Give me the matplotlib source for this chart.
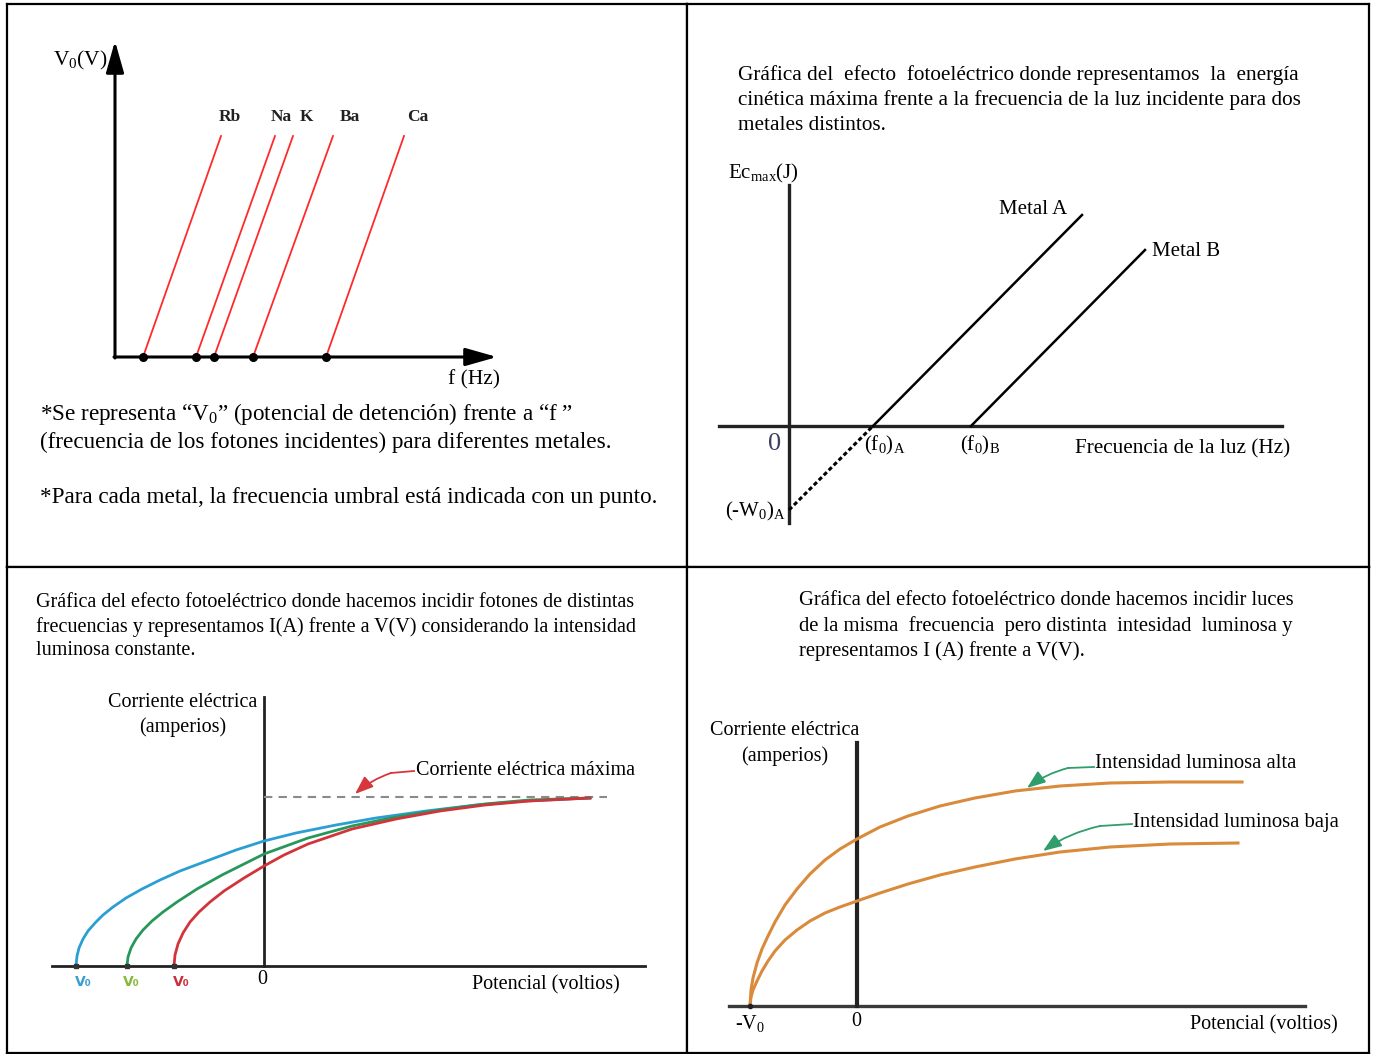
import matplotlib
matplotlib.use('Agg')
import matplotlib.pyplot as plt

plt.rcParams['font.family'] = ['Liberation Serif', 'DejaVu Serif']
plt.rcParams['mathtext.fontset'] = 'custom'
plt.rcParams['mathtext.rm'] = 'Liberation Serif'
plt.rcParams['mathtext.it'] = 'Liberation Serif:italic'
plt.rcParams['mathtext.bf'] = 'Liberation Serif:bold'
plt.rcParams['lines.solid_joinstyle'] = 'round'

# ---- data (arbitrary units) ----
# panel 1: V0 vs f for several metals
metales = ['Rb', 'Na', 'K', 'Ba', 'Ca']
f_umbral = [28, 81, 99, 138, 211]
f_final = [106, 160, 178, 218, 289]
v_final = 221
etiqueta_x = [115, 166, 191, 235, 303]

# panel 2: Ec_max vs f for two metals
metal_a_f = [84, 293]
metal_a_e = [0, 211]
metal_b_f = [182, 356]
metal_b_e = [0, 176]
extrap_f = [0, 84]
extrap_e = [-84, 0]

# panel 3: I vs V, three frequencies
azul_v = [-188, -187, -185, -181, -176, -169, -161, -151, -138, -122, -104, -84, -60, -28, 0, 32, 72, 112, 162, 212, 262, 326]
azul_i = [0, 10, 18, 27, 35, 43, 51, 59, 68, 77, 86, 95, 104, 116, 125, 133, 141, 148, 155, 161, 165, 168]
verde_v = [-137, -136, -133, -128, -121, -112, -101, -87, -67, -42, 0, 44, 88, 132, 176, 221, 265, 326]
verde_i = [0, 9, 18, 27, 36, 45, 54, 64, 77, 91, 112, 128, 140, 149, 156, 162, 166, 168]
rojo_v = [-90, -89, -86, -81, -74, -65, -54, -40, -20, 0, 20, 44, 88, 132, 176, 221, 265, 326]
rojo_i = [0, 11, 22, 33, 44, 54, 64, 75, 88, 100, 111, 122, 137, 147, 155, 161, 165, 168]
i_max = 169

# panel 4: I vs V, two intensities
alta_v = [-107, -106, -104, -100, -95, -89, -82, -72, -60, -47, -32, -17, 0, 23, 51, 83, 118, 158, 203, 253, 313, 385]
alta_i = [0, 16, 28, 43, 57, 70, 84, 101, 117, 132, 146, 157, 167, 179, 190, 200, 208, 215, 220, 223, 224, 224]
baja_v = [-107, -106, -104, -100, -95, -89, -82, -72, -60, -47, -32, -17, 0, 23, 51, 83, 118, 158, 203, 253, 313, 381]
baja_i = [0, 9, 16, 25, 35, 45, 55, 66, 76, 85, 93, 99, 105, 113, 122, 131, 139, 147, 154, 159, 162, 163]

W, H = 1375, 1054
fig = plt.figure(figsize=(13.75, 10.54), dpi=100)


def panel(x0, y0, x1, y1, ox, oy):
    ax = fig.add_axes([x0 / W, 1 - y1 / H, (x1 - x0) / W, (y1 - y0) / H])
    ax.set_xlim(x0 - ox, x1 - ox)
    ax.set_ylim(oy - y1, oy - y0)
    ax.set_xticks([])
    ax.set_yticks([])
    for s in ax.spines.values():
        s.set_linewidth(1.6)
    return ax


def flecha(ax, cola, codo, punta, color):
    ax.plot([cola[0], codo[0]], [cola[1], codo[1]], color=color, lw=1.3)
    ax.annotate('', xy=punta, xytext=codo,
                arrowprops=dict(arrowstyle='-|>,head_length=0.8,head_width=0.3', color=color,
                                lw=1.3, shrinkA=0, shrinkB=0, mutation_scale=14,
                                connectionstyle='arc3,rad=0.1'))


# ---------------- panel 1 ----------------
ax1 = panel(7, 4, 687, 567, 115, 357)
ejes = dict(arrowstyle='-|>,head_length=0.6,head_width=0.17', color='black', lw=2.2,
            shrinkA=0, shrinkB=0, mutation_scale=32)
ax1.annotate('', xy=(382, 0), xytext=(-1, 0), arrowprops=ejes)
ax1.annotate('', xy=(0, 316), xytext=(0, -1), arrowprops=ejes)
for m, f0, f1, lx in zip(metales, f_umbral, f_final, etiqueta_x):
    ax1.plot([f0, f1], [0, v_final], color='#ff2a2a', lw=1.3)
    ax1.text(lx, 240, m, ha='center', va='center', fontsize=12.5, fontweight='bold',
             color='#222222')
ax1.plot(f_umbral, [0] * len(f_umbral), 'o', color='black', ms=5.5)
ax1.text(-35, 297, r'V$_{\mathrm{0}}$(V)', ha='center', va='center', fontsize=15.5)
ax1.text(359, -23, 'f (Hz)', ha='center', va='center', fontsize=15.5)
ax1.text(-75, -57, '*Se representa “V$_{\\mathrm{0}}$” (potencial de detención) frente a “f ”',
         ha='left', va='center', fontsize=16.7)
ax1.text(-75, -85, '(frecuencia de los fotones incidentes) para diferentes metales.',
         ha='left', va='center', fontsize=16.7)
ax1.text(-75, -141, '*Para cada metal, la frecuencia umbral está indicada con un punto.',
         ha='left', va='center', fontsize=16.7)

# ---------------- panel 2 ----------------
ax2 = panel(687, 4, 1369, 567, 789, 426)
ax2.plot([-70, 493], [0, 0], color='#222222', lw=2.4)
ax2.plot([0, 0], [-97, 241], color='#222222', lw=2.4)
ax2.plot(metal_a_f, metal_a_e, color='black', lw=1.8)
ax2.plot(metal_b_f, metal_b_e, color='black', lw=1.8)
ax2.plot(extrap_f, extrap_e, color='black', lw=2.2, dashes=(1.4, 0.9))
titulo2 = ['Gráfica del  efecto  fotoeléctrico donde representamos  la  energía',
           'cinética máxima frente a la frecuencia de la luz incidente para dos',
           'metales distintos.']
for k, t in enumerate(titulo2):
    ax2.text(-51, 351 - 25 * k, t, ha='left', va='center', fontsize=15.3)
ax2.text(-61, 248, r'Ec$_{\mathrm{max}}$(J)', ha='left', va='baseline', fontsize=15)
ax2.text(244, 217, 'Metal A', ha='center', va='center', fontsize=15)
ax2.text(397, 174, 'Metal B', ha='center', va='center', fontsize=15)
ax2.text(-14, -18, '0', ha='center', va='center', fontsize=19, color='#3b4060')
ax2.text(75, -24, r'(f$_{\mathrm{0}}$)$_{\mathrm{A}}$', ha='left', va='baseline', fontsize=15)
ax2.text(171, -24, r'(f$_{\mathrm{0}}$)$_{\mathrm{B}}$', ha='left', va='baseline', fontsize=15)
ax2.text(286, -23, 'Frecuencia de la luz (Hz)', ha='left', va='center', fontsize=15.3)
ax2.text(-64, -90, r'(-W$_{\mathrm{0}}$)$_{\mathrm{A}}$', ha='left', va='baseline', fontsize=15)

# ---------------- panel 3 ----------------
ax3 = panel(7, 567, 687, 1053, 264, 966)
ax3.plot([-212, 381], [0, 0], color='#222222', lw=2.0)
ax3.plot([0, 0], [0, 269], color='#222222', lw=2.0)
ax3.plot([0, 343], [i_max, i_max], color='#8a8a8a', lw=1.5, dashes=(4, 3))
ax3.plot(azul_v, azul_i, color='#2b9fd3', lw=2.0)
ax3.plot(verde_v, verde_i, color='#27985a', lw=2.0)
ax3.plot(rojo_v, rojo_i, color='#d2343a', lw=2.0)
ax3.plot([azul_v[0], verde_v[0], rojo_v[0]], [0, 0, 0], 's', color='#333333', ms=2.5)
titulo3 = ['Gráfica del efecto fotoeléctrico donde hacemos incidir fotones de distintas',
           'frecuencias y representamos I(A) frente a V(V) considerando la intensidad',
           'luminosa constante.']
for k, t in enumerate(titulo3):
    ax3.text(-228, 363 - 24 * k, t, ha='left', va='center', fontsize=14.5)
ax3.text(-81, 263, 'Corriente eléctrica', ha='center', va='center', fontsize=14.5)
ax3.text(-81, 239, '(amperios)', ha='center', va='center', fontsize=14.5)
ax3.text(152, 195, 'Corriente eléctrica máxima', ha='left', va='center', fontsize=14.5)
flecha(ax3, (150, 195), (127, 193), (91, 172), '#d6363c')
for lx, c in zip([-181, -133, -83], ['#3a9fd0', '#84bb3a', '#c8303c']):
    ax3.text(lx, -16, 'V₀', ha='center', va='center', fontsize=10, fontweight='bold',
             color=c, family='DejaVu Sans')
ax3.text(-2, -14, '0', ha='center', va='center', fontsize=14.5)
ax3.text(208, -19, 'Potencial (voltios)', ha='left', va='center', fontsize=14.5)

# ---------------- panel 4 ----------------
ax4 = panel(687, 567, 1369, 1053, 857, 1006)
ax4.plot([-128, 448], [0, 0], color='#3a3a3a', lw=2.4)
ax4.plot([0, 0], [0, 263], color='#222222', lw=3.0)
ax4.plot(alta_v, alta_i, color='#d98a3a', lw=2.2)
ax4.plot(baja_v, baja_i, color='#d98a3a', lw=2.2)
ax4.plot([alta_v[0]], [0], 'o', color='#222222', ms=3)
titulo4 = ['Gráfica del efecto fotoeléctrico donde hacemos incidir luces',
           'de la misma  frecuencia  pero distinta  intesidad  luminosa y',
           'representamos I (A) frente a V(V).']
for k, t in enumerate(titulo4):
    ax4.text(-58, 405 - 25 * k, t, ha='left', va='center', fontsize=14.9)
ax4.text(-72, 275, 'Corriente eléctrica', ha='center', va='center', fontsize=14.5)
ax4.text(-72, 250, '(amperios)', ha='center', va='center', fontsize=14.5)
ax4.text(238, 242, 'Intensidad luminosa alta', ha='left', va='center', fontsize=14.9)
ax4.text(276, 183, 'Intensidad luminosa baja', ha='left', va='center', fontsize=14.9)
flecha(ax4, (237, 239), (211, 238), (170, 218), '#2f9e6a')
flecha(ax4, (275, 182), (243, 180), (186, 155), '#2f9e6a')
ax4.text(-107, -18, r'-V$_{\mathrm{0}}$', ha='center', va='center', fontsize=14.5)
ax4.text(-1, -16, '0', ha='center', va='center', fontsize=14.5)
ax4.text(333, -19, 'Potencial (voltios)', ha='left', va='center', fontsize=14.5)

fig.savefig('out.png', dpi=100)
